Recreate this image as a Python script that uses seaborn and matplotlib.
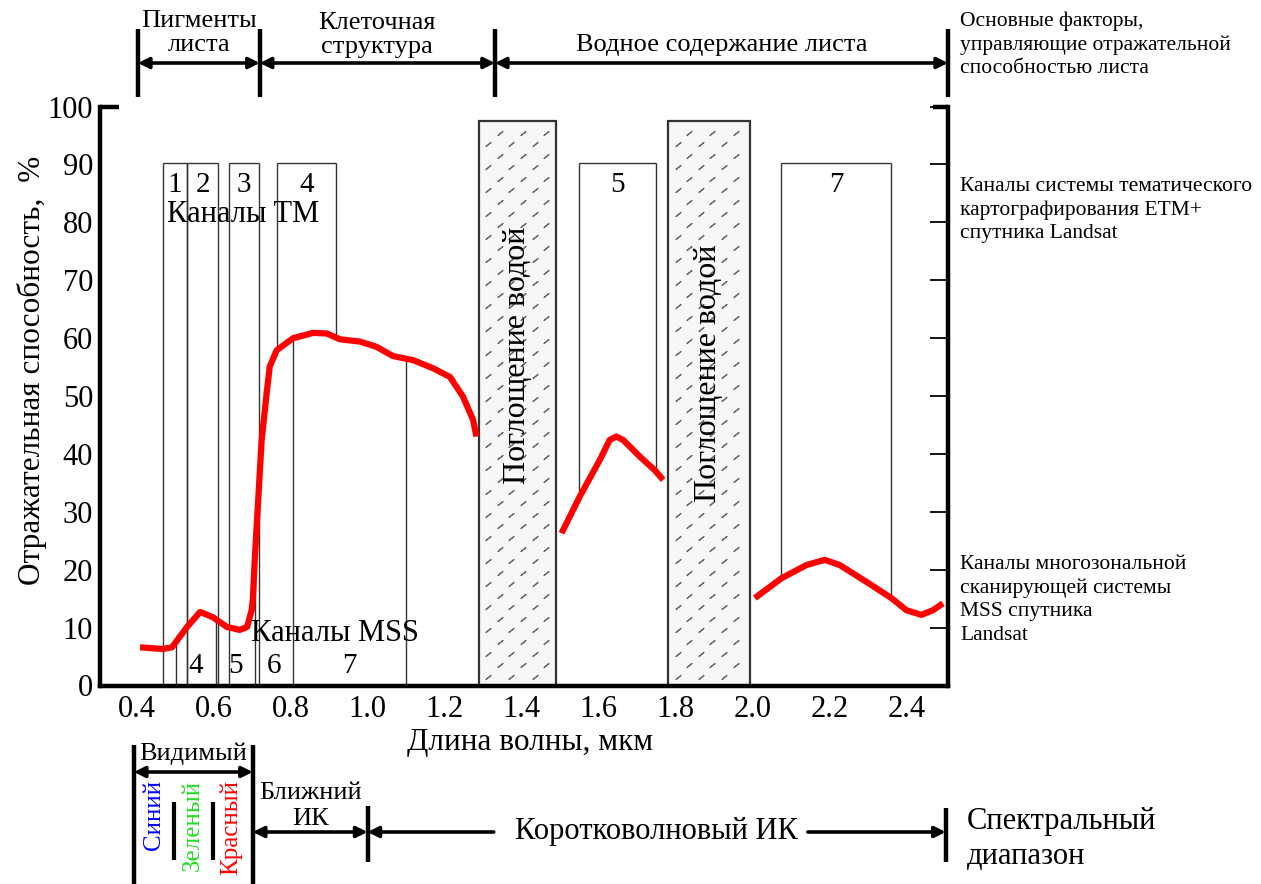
import matplotlib
matplotlib.use("Agg")

import numpy as np
import pandas as pd
import matplotlib.pyplot as plt
import matplotlib.transforms as mtransforms
from matplotlib.patches import Rectangle
import seaborn as sns

sns.set_style("white")
plt.rcParams['font.family'] = ['Liberation Serif', 'DejaVu Serif']
plt.rcParams['text.color'] = 'black'
plt.rcParams['axes.labelcolor'] = 'black'
plt.rcParams['xtick.color'] = 'black'
plt.rcParams['ytick.color'] = 'black'

# ===============================
# Data: leaf reflectance curve (wavelength, um -> reflectance, %)
# ===============================
seg1_w = [0.409, 0.468, 0.492, 0.531, 0.565, 0.598, 0.635, 0.668, 0.687, 0.699,
          0.702, 0.707, 0.725, 0.738, 0.746, 0.764, 0.807, 0.859, 0.894, 0.928,
          0.980, 1.023, 1.066, 1.118, 1.170, 1.214, 1.248, 1.274, 1.283]
seg1_r = [6.6, 6.3, 6.6, 10.1, 12.7, 11.8, 10.1, 9.6, 10.1, 13.0,
          14.8, 21.7, 42.4, 50.5, 55.1, 57.9, 60.0, 60.9, 60.8, 59.8,
          59.4, 58.5, 56.9, 56.2, 54.8, 53.3, 49.9, 45.9, 43.0]
seg2_w = [1.504, 1.551, 1.603, 1.629, 1.647, 1.664, 1.708, 1.746, 1.768]
seg2_r = [26.3, 32.6, 38.9, 42.4, 43.0, 42.4, 39.5, 37.2, 35.5]
seg3_w = [2.006, 2.075, 2.140, 2.188, 2.227, 2.296, 2.361, 2.400, 2.439, 2.469, 2.495]
seg3_r = [15.1, 18.5, 20.8, 21.7, 20.8, 17.9, 15.1, 13.0, 12.2, 13.0, 14.2]

# Landsat TM / ETM+ channels
tm_names = ["1", "2", "3", "4", "5", "7"]
tm_lo = [0.468, 0.532, 0.640, 0.765, 1.549, 2.075]
tm_hi = [0.532, 0.611, 0.718, 0.919, 1.749, 2.361]
tm_to_axis = [True, True, True, False, False, False]
tm_top = 90.3

# Landsat MSS channels
mss_names = ["4", "5", "6", "7"]
mss_edges = [0.502, 0.607, 0.707, 0.806, 1.101]

# water absorption bands
water_lo = [1.289, 1.781]
water_hi = [1.490, 1.993]
water_top = 97.5
water_text_y = [57, 54]

# region boundaries (um)
factor_edges = [0.4035, 0.72, 1.331, 2.508]
factor_names = ["Пигменты\nлиста", "Клеточная\nструктура", "Водное содержание листа"]
range_edges = [0.393, 0.702, 1.0, 2.502]

x_ticks = [0.4, 0.6, 0.8, 1.0, 1.2, 1.4, 1.6, 1.8, 2.0, 2.2, 2.4]
y_ticks = [0, 10, 20, 30, 40, 50, 60, 70, 80, 90, 100]

curve = pd.concat([
    pd.DataFrame({"w": seg1_w, "r": seg1_r, "seg": 1}),
    pd.DataFrame({"w": seg2_w, "r": seg2_r, "seg": 2}),
    pd.DataFrame({"w": seg3_w, "r": seg3_r, "seg": 3}),
], ignore_index=True)


def curve_at(x):
    return np.interp(x, curve["w"], curve["r"])


W, H = 1261, 884
fig = plt.figure(figsize=(W / 100, H / 100), dpi=100)
ax = fig.add_axes([100 / W, 1 - 685.5 / H, 848 / W, 579 / H])
ax.set_xlim(0.305, 2.508)
ax.set_ylim(0, 100)

edge_c = "#333333"

# ---- TM channel boxes
for name, lo, hi, full in zip(tm_names, tm_lo, tm_hi, tm_to_axis):
    b_lo = 0 if full else curve_at(lo)
    b_hi = 0 if full else curve_at(hi)
    ax.vlines([lo], b_lo, tm_top, color=edge_c, lw=1.0, zorder=2)
    ax.vlines([hi], b_hi, tm_top, color=edge_c, lw=1.0, zorder=2)
    ax.hlines(tm_top, lo, hi, color=edge_c, lw=1.0, zorder=2)
    ax.text((lo + hi) / 2, 86.5, name, ha="center", va="center", fontsize=21, zorder=3)

ax.text(0.677, 81.3, "Каналы TM", ha="center", va="center", fontsize=22, zorder=3)

# ---- MSS channel lines
ax.vlines(mss_edges, 0, curve_at(np.array(mss_edges)), color=edge_c, lw=1.0, zorder=2)
for i, name in enumerate(mss_names):
    ax.text((mss_edges[i] + mss_edges[i + 1]) / 2, 3.3, name,
            ha="center", va="center", fontsize=21, zorder=3)
ax.text(0.915, 8.9, "Каналы MSS", ha="center", va="center", fontsize=22, zorder=3)

# ---- water absorption boxes (hatched)
for lo, hi, ty in zip(water_lo, water_hi, water_text_y):
    ax.add_patch(Rectangle((lo, 0), hi - lo, water_top, facecolor="#f7f7f7",
                           edgecolor="#333333", lw=1.6, zorder=2))
    rows = np.arange(1.5, water_top - 1, 2.0)
    for k, yy in enumerate(rows):
        off = 0.03 if k % 2 else 0.0
        xs = np.arange(lo + 0.025 + off, hi - 0.012, 0.06)
        ax.plot(xs, np.full_like(xs, yy), ls="none", marker=(2, 2, -50),
                markersize=5, mew=0.8, color="#666666", zorder=2.5)
    ax.text((lo + hi) / 2, ty, "Поглощение водой", rotation=90, ha="center",
            va="center", fontsize=23, zorder=3)

# ---- reflectance curve
sns.lineplot(data=curve, x="w", y="r", units="seg", estimator=None, sort=False,
             color="#ff0000", linewidth=4.5, ax=ax, legend=False, zorder=5,
             solid_capstyle="butt", solid_joinstyle="round")

# ---- axes styling
ax.set_xticks(x_ticks)
ax.set_xticklabels([f"{v:.1f}" for v in x_ticks])
ax.set_yticks(y_ticks)
ax.set_yticklabels([str(v) for v in y_ticks])
ax.tick_params(axis="both", direction="in", length=13, width=1.3,
               labelsize=22, color="black")
ax.tick_params(axis="x", pad=7)
ax.tick_params(axis="y", pad=5, right=True, labelright=False)
ax.spines["top"].set_visible(False)
for s in ["left", "right", "bottom"]:
    ax.spines[s].set_linewidth(3.2)
    ax.spines[s].set_color("black")
ax.plot([0, 0.022], [1, 1], transform=ax.transAxes, color="black", lw=3.2,
        clip_on=False, solid_capstyle="butt", zorder=6)
ax.plot([0.982, 1], [1, 1], transform=ax.transAxes, color="black", lw=3.2,
        clip_on=False, solid_capstyle="butt", zorder=6)
ax.set_xlabel("Длина волны, мкм", fontsize=22.5)
ax.set_ylabel("Отражательная способность,  %", fontsize=22.5)
ax.xaxis.set_label_coords(0.507, -0.074)
ax.yaxis.set_label_coords(-0.062, 0.545)
ax.grid(False)


# ===============================
# Annotations outside axes (x in um, y in figure pixels from top)
# ===============================
trans = mtransforms.blended_transform_factory(ax.transData, fig.transFigure)


def fy(ypx):
    return 1 - ypx / H


def arrow(x1, x2, ypx, style="<|-|>"):
    ax.annotate("", xy=(x2, fy(ypx)), xytext=(x1, fy(ypx)), xycoords=trans,
                textcoords=trans, annotation_clip=False,
                arrowprops=dict(arrowstyle=style, lw=2.6, color="black",
                                shrinkA=0, shrinkB=0, mutation_scale=16))


def vbar(x, y1px, y2px, lw=3.2):
    ax.plot([x, x], [fy(y1px), fy(y2px)], transform=trans, color="black",
            lw=lw, clip_on=False, solid_capstyle="butt")


# header: factors
for x in factor_edges:
    vbar(x, 29, 97)
for i, name in enumerate(factor_names):
    arrow(factor_edges[i], factor_edges[i + 1], 63)
    ty = [33, 35, 45][i]
    ax.text((factor_edges[i] + factor_edges[i + 1]) / 2, fy(ty), name,
            transform=trans, ha="center", va="center", fontsize=19,
            linespacing=1.08)

fig.text(960 / W, fy(45), "Основные факторы,\nуправляющие отражательной\nспособностью листа",
         ha="left", va="center", fontsize=15.5, linespacing=1.3)
fig.text(960 / W, fy(210), "Каналы системы тематического\nкартографирования ETM+\nспутника Landsat",
         ha="left", va="center", fontsize=15.5, linespacing=1.3)
fig.text(960 / W, fy(600), "Каналы многозональной\nсканирующей системы\nMSS спутника\nLandsat",
         ha="left", va="center", fontsize=15.5, linespacing=1.3)

# bottom: spectral ranges
vbar(range_edges[0], 745, 884)
vbar(range_edges[1], 745, 884)
arrow(range_edges[0], range_edges[1], 772)
ax.text((range_edges[0] + range_edges[1]) / 2, fy(754), "Видимый", transform=trans,
        ha="center", va="center", fontsize=19)
color_words = ["Синий", "Зеленый", "Красный"]
color_vals = ["#0000ff", "#22dd22", "#ff0000"]
color_x = [0.446, 0.545, 0.645]
for word, c, x in zip(color_words, color_vals, color_x):
    ax.text(x, fy(780), word, transform=trans, rotation=90, ha="center",
            va="top", fontsize=18, color=c)
for x in [0.496, 0.598]:
    vbar(x, 802, 860, lw=3)

arrow(range_edges[1], range_edges[2], 832)
ax.text((range_edges[1] + range_edges[2]) / 2, fy(806), "Ближний\nИК", transform=trans,
        ha="center", va="center", fontsize=19, linespacing=1.25)
vbar(range_edges[2], 806, 862)
arrow(range_edges[2], 1.328, 832, style="<|-")
arrow(2.144, range_edges[3], 832, style="-|>")
vbar(range_edges[3], 808, 862)
ax.text((range_edges[2] + range_edges[3]) / 2, fy(832), "Коротковолновый ИК", transform=trans,
        ha="center", va="center", fontsize=22)
fig.text(967 / W, fy(839), "Спектральный\nдиапазон", ha="left", va="center",
         fontsize=22, linespacing=1.3)

fig.savefig("out.png", dpi=100)
plt.close(fig)
